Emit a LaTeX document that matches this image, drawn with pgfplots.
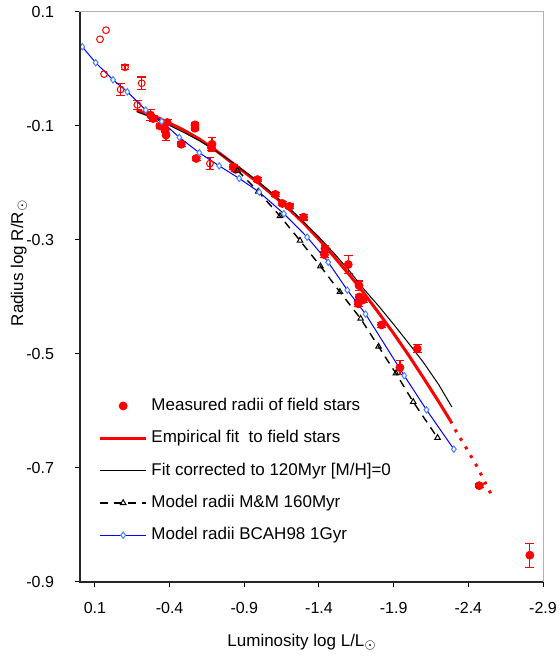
\documentclass[border=0pt]{standalone}
\usepackage{fontspec}
\setmainfont{Liberation Sans}
\usepackage{pgfplots}
\pgfplotsset{compat=1.18}
\definecolor{mkblue}{RGB}{70,130,255}
\pgfplotsset{widelegend/.style={legend image code/.code={%
  \draw[mark repeat=2,mark phase=2,##1] plot coordinates {(0cm,0cm) (0.4cm,0cm) (0.8cm,0cm)};}}}

% measured radii of field stars (filled), with y errors
\pgfplotstableread{
x y ey
-0.273 -0.081 0.010
-0.290 -0.087 0.005
-0.335 -0.100 0.005
-0.384 -0.094 0.005
-0.376 -0.116 0.010
-0.370 -0.108 0.004
-0.478 -0.132 0.004
-0.570 -0.098 0.004
-0.570 -0.104 0.004
-0.578 -0.157 0.003
-0.684 -0.132 0.012
-0.680 -0.138 0.005
-0.826 -0.172 0.005
-0.842 -0.176 0.004
-0.988 -0.194 0.004
-1.108 -0.220 0.004
-1.155 -0.236 0.004
-1.203 -0.241 0.004
-1.297 -0.260 0.005
-1.440 -0.315 0.005
-1.437 -0.326 0.005
-1.596 -0.343 0.016
-1.668 -0.380 0.008
-1.670 -0.400 0.005
-1.696 -0.405 0.005
-1.663 -0.412 0.005
-1.819 -0.449 0.004
-2.058 -0.491 0.007
-1.942 -0.524 0.012
-2.473 -0.731 0.003
-2.812 -0.853 0.021
}\measured

% open circles with error bars
\pgfplotstableread{
x y ey
-0.101 0.003 0.004
-0.213 -0.025 0.011
-0.072 -0.036 0.010
-0.184 -0.063 0.008
-0.670 -0.166 0.011
}\openerr

\pgfplotstableread{
x y
0.066 0.052
0.026 0.068
0.039 -0.009
}\openplain

\pgfplotstableread{
x y
-0.18 -0.072
-0.30 -0.083
-0.40 -0.095
-0.50 -0.108
-0.60 -0.123
-0.70 -0.141
-0.80 -0.161
-0.90 -0.181
-1.00 -0.201
-1.10 -0.223
-1.20 -0.246
-1.30 -0.271
-1.40 -0.299
-1.50 -0.329
-1.60 -0.360
-1.70 -0.393
-1.80 -0.428
-1.90 -0.464
-2.00 -0.502
-2.10 -0.542
-2.20 -0.583
-2.28 -0.617
}\empfit

\pgfplotstableread{
x y
-2.28 -0.617
-2.317 -0.635
-2.384 -0.664
-2.462 -0.699
-2.558 -0.749
}\empext

\pgfplotstableread{
x y
-0.18 -0.075
-0.30 -0.087
-0.40 -0.099
-0.50 -0.112
-0.60 -0.126
-0.70 -0.142
-0.80 -0.160
-0.90 -0.179
-1.00 -0.199
-1.10 -0.221
-1.20 -0.244
-1.30 -0.269
-1.40 -0.295
-1.50 -0.323
-1.60 -0.353
-1.70 -0.386
-1.80 -0.416
-1.90 -0.448
-2.00 -0.481
-2.10 -0.515
-2.20 -0.553
-2.29 -0.593
}\corrfit

\pgfplotstableread{
x y
-0.855 -0.178
-0.993 -0.215
-1.139 -0.258
-1.273 -0.301
-1.410 -0.346
-1.540 -0.391
-1.679 -0.438
-1.799 -0.487
-1.915 -0.534
-2.031 -0.584
-2.194 -0.647
}\mm

\pgfplotstableread{
x y
0.185 0.039
0.095 0.011
-0.021 -0.019
-0.117 -0.040
-0.240 -0.072
-0.347 -0.092
-0.465 -0.120
-0.599 -0.147
-0.732 -0.170
-0.866 -0.192
-1.000 -0.216
-1.165 -0.254
-1.321 -0.295
-1.462 -0.339
-1.590 -0.388
-1.712 -0.430
-1.971 -0.538
-2.120 -0.598
-2.303 -0.667
}\bcah

\begin{document}
\begin{tikzpicture}
\useasboundingbox (-40pt,-37pt) rectangle (239.5pt,291pt);
\begin{axis}[
  scale only axis, width=231.5pt, height=285pt,
  at={(0,0)}, anchor=south west,
  x dir=reverse,
  xmin=-2.9, xmax=0.2, ymin=-0.9, ymax=0.1,
  xtick={0.1,-0.4,-0.9,-1.4,-1.9,-2.4,-2.9},
  xticklabels={0.1,-0.4,-0.9,-1.4,-1.9,-2.4,-2.9},
  ytick={0.1,-0.1,-0.3,-0.5,-0.7,-0.9},
  yticklabels={0.1,-0.1,-0.3,-0.5,-0.7,-0.9},
  tick pos=left, tick align=outside, major tick length=2.5pt,
  tick style={black, line width=0.5pt},
  axis line style={gray!60, line width=0.5pt},
  ticklabel style={font=\fontsize{8}{9}\selectfont},
  xticklabel style={yshift=-4pt},
  yticklabel style={xshift=-7pt},
  label style={font=\fontsize{8.5}{10}\selectfont},
  xlabel={Luminosity log L/L$_\odot$},
  ylabel={Radius log R/R$_\odot$},
  xlabel style={at={(axis description cs:0.48,-0.105)}, anchor=center},
  ylabel style={at={(axis description cs:-0.132,0.56)}, anchor=center},
  legend style={draw=none, fill=none, at={(0.04,0.33)}, anchor=north west,
    font=\fontsize{8.5}{10}\selectfont, row sep=4.5pt, inner sep=0pt},
  legend cell align=left,
  widelegend,
]
\addplot[only marks, mark=*, red, mark size=2pt, widelegend,
  error bars/.cd, y dir=both, y explicit,
  error bar style={red, line width=0.6pt},
  error mark options={red, rotate=90, mark size=2.2pt, line width=0.6pt}]
  table[x=x, y=y, y error=ey] {\measured};
\addlegendentry{Measured radii of field stars}

\addplot[forget plot, only marks, mark=o, red, mark size=1.7pt, line width=0.5pt,
  error bars/.cd, y dir=both, y explicit,
  error bar style={red, line width=0.6pt},
  error mark options={red, rotate=90, mark size=2.2pt, line width=0.6pt}]
  table[x=x, y=y, y error=ey] {\openerr};
\addplot[forget plot, only marks, mark=o, red, mark size=1.7pt, line width=0.5pt]
  table[x=x, y=y] {\openplain};

\addplot[red, line width=1.5pt, line join=round] table[x=x, y=y] {\empfit};
\addlegendentry{Empirical fit~ to field stars}
\addplot[forget plot, red, line width=1.5pt, dash pattern=on 1.5pt off 3.5pt]
  table[x=x, y=y] {\empext};

\addplot[black, line width=0.5pt] table[x=x, y=y] {\corrfit};
\addlegendentry{Fit corrected to 120Myr [M/H]=0}

\addplot[black, line width=0.7pt, dash pattern=on 4pt off 3pt,
  mark=triangle, mark size=1.6pt, mark options={solid, line width=0.5pt}]
  table[x=x, y=y] {\mm};
\addlegendentry{Model radii M\&M 160Myr}

\addplot[blue, line width=0.5pt, mark=diamond*, mark size=1.6pt,
  mark options={draw=mkblue, fill=white, line width=0.5pt}]
  table[x=x, y=y] {\bcah};
\addlegendentry{Model radii BCAH98 1Gyr}
\end{axis}
\draw[black!85, line width=0.6pt] (0,285pt) -- (0,0) -- (231.5pt,0);
\end{tikzpicture}
\end{document}
